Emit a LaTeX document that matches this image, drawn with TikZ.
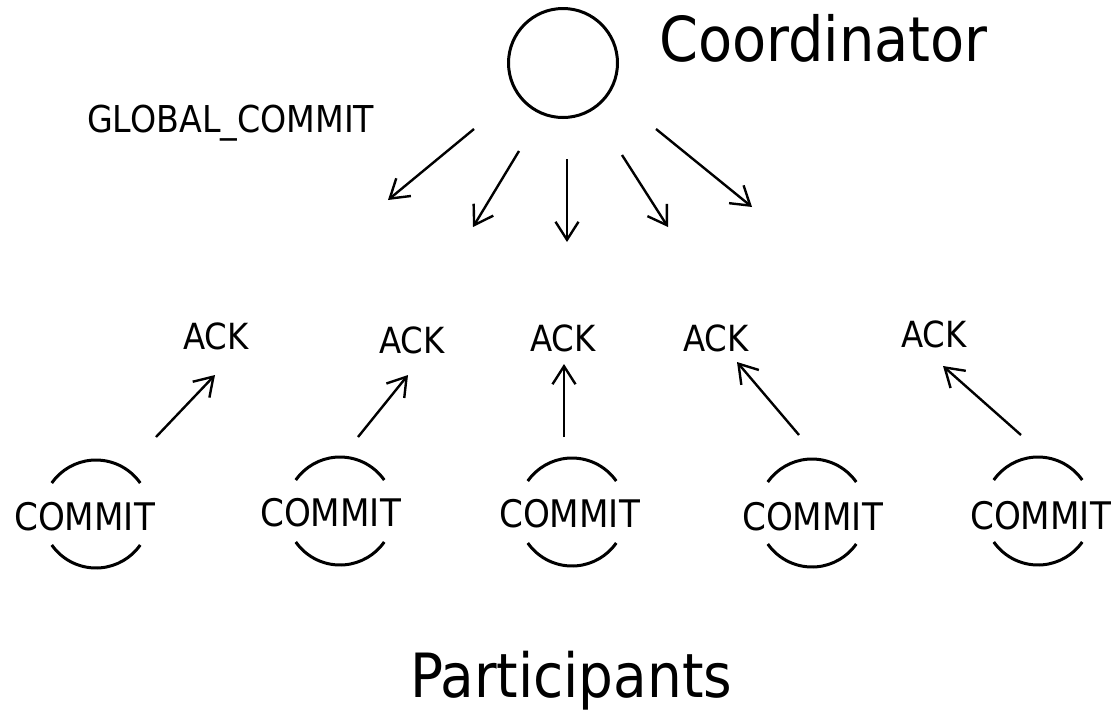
\documentclass[tikz,border=0pt]{standalone}
\usepackage{fontspec}
\setmainfont{DejaVu Sans Condensed}
\usetikzlibrary{arrows.meta}
\begin{document}
\begin{tikzpicture}[x=1pt,y=-1pt,
  lbl/.style={inner sep=0pt,anchor=base west},
  msg/.style={line width=2.4pt,-{Straight Barb[length=18pt,width=23pt,line width=2.4pt]}},
  arcline/.style={line width=3pt},
]
\useasboundingbox (0,0) rectangle (1113,713);

% coordinator
\node[draw,circle,line width=3pt,minimum size=109pt,inner sep=0pt] (coord) at (563,63) {};
\node[lbl,font=\fontsize{62}{62}\selectfont] (coordlbl) at (659,61) {Coordinator};
\node[lbl,font=\fontsize{37}{37}\selectfont] (glob) at (87,132) {GLOBAL\_COMMIT};

% outgoing GLOBAL_COMMIT messages
\coordinate (g1s) at (474,129); \coordinate (g1e) at (388,200);
\coordinate (g2s) at (519,151); \coordinate (g2e) at (473,227);
\coordinate (g3s) at (567,159); \coordinate (g3e) at (567,242);
\coordinate (g4s) at (622,155); \coordinate (g4e) at (668,227);
\coordinate (g5s) at (656,129); \coordinate (g5e) at (752,207);
\foreach \i in {1,...,5} \draw[msg] (g\i s) -- (g\i e);

% ACK labels
\node[lbl,font=\fontsize{36}{36}\selectfont] (ack1) at (183,349) {ACK};
\node[lbl,font=\fontsize{36}{36}\selectfont] (ack2) at (379,353) {ACK};
\node[lbl,font=\fontsize{36}{36}\selectfont] (ack3) at (530,351) {ACK};
\node[lbl,font=\fontsize{36}{36}\selectfont] (ack4) at (683,351) {ACK};
\node[lbl,font=\fontsize{36}{36}\selectfont] (ack5) at (901,347) {ACK};

% ACK messages
\coordinate (a1s) at (156,437); \coordinate (a1e) at (215,375);
\coordinate (a2s) at (358,437); \coordinate (a2e) at (408,375);
\coordinate (a3s) at (564,437); \coordinate (a3e) at (564,364);
\coordinate (a4s) at (799,435); \coordinate (a4e) at (737,362);
\coordinate (a5s) at (1021,435); \coordinate (a5e) at (943,366);
\foreach \i in {1,...,5} \draw[msg] (a\i s) -- (a\i e);

% participants: label with broken circle
\foreach \n/\cx/\cy/\tx/\ty in {1/96/514/14/530, 2/340/511/260/526, 3/572/512/499/527, 4/812/513/742/530, 5/1038/511/970/529}{
  \coordinate (p\n) at (\cx,\cy);
  \node[lbl,font=\fontsize{38}{38}\selectfont] (c\n) at (\tx,\ty) {COMMIT};
  \draw[arcline] ([shift={(35:54pt)}]p\n) arc[start angle=35,end angle=145,radius=54pt];
  \draw[arcline] ([shift={(215:54pt)}]p\n) arc[start angle=215,end angle=325,radius=54pt];
}

\node[lbl,font=\fontsize{61}{61}\selectfont] (part) at (410,697) {Participants};
\end{tikzpicture}
\end{document}
